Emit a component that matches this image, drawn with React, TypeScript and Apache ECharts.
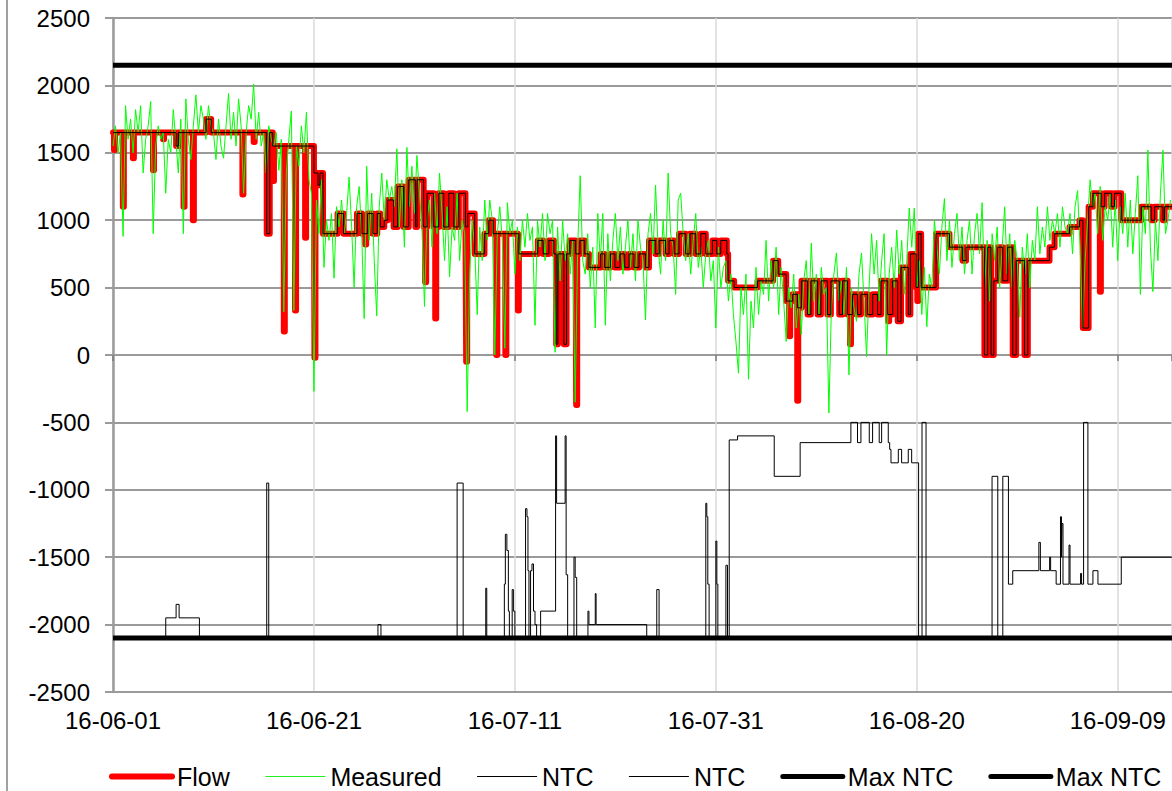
import React, { useEffect, useRef } from 'react';
import * as echarts from 'echarts';

const FONT = 'Liberation Sans, Arial, sans-serif';
const START_UTC = Date.UTC(2016, 5, 1);
const X_MAX = 105.4; // days after 2016-06-01 at the right edge
const X_INTERVAL = 20;
const Y_MIN = -2500;
const Y_MAX = 2500;
const Y_INTERVAL = 500;

const seriesNames = ['Flow', 'Measured', 'NTC', 'NTC ', 'Max NTC', 'Max NTC '];

// NTC (positive direction): [day, value] held until the next breakpoint
const ntcUpSteps: [number, number][] = [
  [0, 1650], [6.28, 1550], [6.5, 1650], [9.27, 1750], [9.77, 1650], [15.3, 900], [15.6, 1650], [15.9, 1550],
  [20.0, 1350], [20.4, 1260], [20.6, 1350], [20.9, 900], [22.35, 1050], [22.95, 900], [24.28, 1050], [24.78, 900],
  [25.35, 1050], [25.88, 900], [26.3, 1050], [26.6, 950], [27.0, 1000], [27.34, 1150], [27.93, 950], [28.33, 1250],
  [28.93, 950], [29.43, 1300], [30.1, 950], [30.26, 1300], [30.92, 950], [31.26, 1200], [31.92, 950], [32.42, 1200],
  [32.92, 950], [33.42, 1200], [33.92, 950], [34.42, 1200], [35.08, 950], [35.31, 1050], [36.0, 750], [36.97, 900],
  [37.4, 1000], [37.83, 900], [40.39, 750], [42.28, 850], [42.81, 750], [43.38, 850], [43.88, 750], [44.11, 80],
  [44.28, 750], [44.88, 80], [45.14, 750], [45.47, 850], [46.04, 750], [46.47, 850], [46.94, 750], [47.37, 650],
  [48.53, 750], [48.93, 650], [49.5, 750], [49.95, 650], [50.46, 750], [50.93, 650], [51.36, 750], [51.86, 650],
  [52.36, 750], [53.0, 650], [53.35, 850], [54.0, 750], [54.35, 850], [55.0, 750], [55.35, 850], [55.85, 750],
  [56.34, 900], [57.0, 750], [57.43, 900], [58.0, 750], [58.5, 900], [59.0, 750], [59.66, 850], [60.09, 750],
  [60.49, 850], [61.09, 750], [61.22, 550], [61.82, 500], [64.15, 550], [65.7, 700], [66.21, 600], [67.0, 400],
  [67.64, 450], [68.13, 350], [68.53, 550], [69.13, 300], [69.46, 550], [70.13, 300], [70.46, 550], [71.1, 300],
  [71.45, 550], [72.28, 300], [72.61, 550], [73.11, 300], [73.61, 450], [74.11, 300], [74.44, 450], [75.11, 300],
  [75.61, 450], [76.1, 300], [76.44, 550], [77.11, 300], [77.6, 550], [78.1, 250], [78.43, 650], [79.16, 300],
  [79.36, 750], [79.93, 500], [80.16, 900], [80.43, 500], [81.92, 900], [83.25, 800], [84.57, 700], [84.9, 800],
  [86.73, 0], [87.06, 800], [87.39, 0], [87.66, 550], [88.06, 800], [88.56, 550], [89.05, 800], [89.55, 0],
  [89.89, 700], [90.72, 0], [91.05, 700], [93.21, 800], [93.71, 900], [95.2, 950], [96.2, 1000], [96.53, 200],
  [97.1, 1100], [97.53, 1200], [98.35, 1100], [98.69, 1200], [99.35, 1100], [99.68, 1200], [100.35, 1000],
  [102.34, 1100], [103.34, 1000], [103.67, 1100], [104.5, 1000], [104.66, 1100], [105.4, 1100],
];

// Short (about one hour) drops of the flow below the NTC: [centre day, value]
const flowDips: [number, number][] = [
  [0.15, 1520], [1.03, 1100], [2.03, 1460], [4.03, 1370], [5.03, 1600], [7.07, 1100], [8.0, 1000],
  [12.93, 1190], [14.05, 1580], [15.97, 1290], [17.05, 175], [18.17, 330], [19.17, 870], [20.1, -20],
  [25.15, 820], [31.12, 540], [32.12, 270], [35.2, -50], [38.2, 0], [39.1, 0], [40.35, 330], [46.15, -370],
  [67.35, 140], [68.15, -340], [73.4, 80], [77.2, 250], [80.1, 400], [98.27, 470],
];
const DIP_HALF_WIDTH = 0.05;

// NTC (negative direction): [day, value] held until the next breakpoint
const ntcDownSteps: [number, number][] = [
  [0, -2100], [5.25, -1950], [6.28, -1850], [6.58, -1950], [8.6, -2100], [15.3, -950], [15.5, -2100],
  [26.37, -2000], [26.67, -2100], [34.25, -950], [34.85, -2100], [37.1, -1730], [37.2, -2100],
  [38.95, -1700], [39.05, -1330], [39.2, -1450], [39.35, -1900], [39.45, -2100],
  [39.73, -1740], [39.85, -1900], [40.0, -2100],
  [41.06, -1140], [41.2, -1200], [41.3, -1600], [41.4, -2100],
  [41.56, -1600], [41.7, -1550], [41.85, -1900], [42.0, -2000], [42.16, -2100],
  [42.56, -1900], [44.05, -600], [44.15, -1100], [45.0, -600], [45.1, -1630], [45.25, -2100],
  [45.88, -1500], [46.0, -1650], [46.15, -2100], [47.27, -1900], [47.37, -2000], [48.0, -1770], [48.08, -2000],
  [53.12, -2100], [54.12, -1740], [54.35, -2100],
  [59.0, -1100], [59.1, -1200], [59.2, -1700], [59.33, -2100],
  [60.0, -1380], [60.1, -1700], [60.2, -2100], [61.0, -1560], [61.16, -2100],
  [61.33, -630], [62.16, -600], [65.81, -900], [68.39, -650],
  [73.44, -500], [74.1, -650], [74.44, -500], [75.27, -650], [75.6, -500], [76.26, -650], [76.5, -500], [77.16, -650],
  [77.3, -700], [77.43, -800], [78.16, -700], [78.49, -800], [79.15, -700], [79.49, -800],
  [80.18, -2100], [80.52, -500], [80.92, -2100],
  [87.49, -900], [88.06, -2100], [88.56, -900], [89.12, -1700], [89.55, -1600],
  [92.15, -1390], [92.3, -1600], [93.22, -1500], [93.32, -1600], [93.87, -1700],
  [94.3, -1200], [94.4, -1500], [94.45, -1250], [94.55, -1700], [95.15, -1410], [95.25, -1700],
  [96.3, -1620], [96.4, -1700], [96.6, -500], [97.03, -1700], [97.53, -1600], [98.03, -1700],
  [100.35, -1500], [105.4, -1500],
];

// Measured flow, one value every 6 hours from 2016-06-01 00:00
const MEASURED_STEP_DAYS = 0.25;
const measured: number[] = [
  1550, 1700, 1500, 1650, 880, 1850, 1600, 1750, 1500, 1820, 1650, 1850, 1350, 1600, 1700, 1880,
  900, 1550, 1700, 1600, 1650, 1200, 1600, 1500, 1820, 1600, 1350, 1750, 900, 1900, 1600, 1450,
  1700, 1930, 1650, 1850, 1750, 1600, 1850, 1700, 1650, 1450, 1750, 1550, 1460, 1700, 1940, 1600,
  1800, 1550, 1900, 1700, 1200, 1650, 1850, 1750, 2010, 1600, 1800, 1550, 1650, 1350, 1700, 1600,
  1550, 1650, 1370, 1600, 320, 1350, 1600, 1810, 330, 1550, 1400, 1700, 1500, 1800, 1300, 1200,
  -270, 1150, 900, 1300, 650, 1000, 850, 1050, 570, 1100, 950, 1150, 900, 1050, 1320, 950,
  500, 1100, 1250, 900, 270, 1400, 850, 1200, 700, 290, 1100, 1350, 1000, 1300, 1150, 1250,
  1100, 1530, 950, 1300, 800, 1540, 1100, 1400, 1050, 1480, 1200, 950, 360, 1000, 1150, 800,
  1200, 900, 1350, 1050, 700, 1100, 580, 950, 850, 1200, 700, 1000, 900, -420, 600, 1000,
  800, 300, 950, 700, 1150, 850, 1150, 1000, 0, 900, 1100, 850, 50, 1130, 900, 1000,
  600, 950, 700, 1000, 800, 1050, 850, 950, 220, 1000, 800, 1050, 700, 1050, 900, 1000,
  20, 950, 550, 1000, 700, 900, 600, 850, -350, 800, 1330, 700, 600, 900, 500, 800,
  200, 1050, 700, 1050, 220, 900, 550, 850, 1050, 700, 950, 600, 800, 1000, 650, 900,
  550, 1000, 800, 700, 260, 900, 1050, 750, 1260, 800, 600, 1000, 700, 1350, 900, 800,
  450, 1150, 1200, 900, 700, 900, 600, 850, 1050, 650, 800, 500, 750, 850, 550, 700,
  200, 800, 500, 650, 700, 400, 600, 300, 100, -135, 500, 300, 600, -180, 400, 200,
  650, 300, 550, 450, 850, 400, 700, 500, 800, 300, 650, 400, 100, 500, 350, 600,
  200, 450, 150, 550, 700, 300, 830, 400, 600, 300, 650, 450, 500, -430, 350, 600,
  757, 400, 550, 300, 650, -148, 500, 350, 250, 600, 757, 400, -12, 500, 900, 600,
  850, 400, 700, 900, 0, 600, 800, 500, 927, 600, 850, 450, 700, 1090, 800, 1090,
  500, 700, 300, 650, 210, 600, 500, 1000, 800, 600, 950, 1160, 700, 1000, 650, 900,
  1050, 700, 950, 600, 850, 1000, 600, 900, 1050, 750, 1130, 500, 850, 400, 900, 700,
  950, 500, 800, 1100, 600, 900, 500, 850, 700, 280, 800, 600, 900, 500, 850, 700,
  1100, 750, 950, 800, 1100, 850, 1000, 900, 1050, 800, 1100, 950, 900, 1050, 750, 1100,
  1220, 800, 200, 700, 1000, 1300, 1100, 1200, 900, 1250, 850, 1100, 1000, 1200, 800, 1150,
  700, 1100, 900, 1200, 800, 1150, 750, 1050, 1330, 450, 1100, 900, 1520, 800, 470, 1000,
  700, 1200, 1520, 900, 1000, 1150,
];

const maxNtcUp = 2150;
const maxNtcDown = -2100;

function stepValueAt(steps: [number, number][], t: number): number {
  let v = steps[0][1];
  for (const [d, val] of steps) {
    if (d <= t) v = val;
    else break;
  }
  return v;
}

function buildFlow(): [number, number][] {
  const dips = flowDips.map(([c, v]) => [Math.max(0, c - DIP_HALF_WIDTH), c + DIP_HALF_WIDTH, v]);
  const times = new Set<number>();
  ntcUpSteps.forEach(([d]) => times.add(d));
  dips.forEach(([s, e]) => {
    times.add(s);
    times.add(e);
  });
  const sorted = Array.from(times).sort((a, b) => a - b);
  return sorted.map((t) => {
    const dip = dips.find(([s, e]) => t >= s && t < e);
    return [t, dip ? dip[2] : stepValueAt(ntcUpSteps, t)] as [number, number];
  });
}

function dayLabel(v: number): string {
  const d = new Date(START_UTC + Math.round(v) * 86400000);
  const yy = String(d.getUTCFullYear()).slice(2);
  const mm = String(d.getUTCMonth() + 1).padStart(2, '0');
  const dd = String(d.getUTCDate()).padStart(2, '0');
  return `${yy}-${mm}-${dd}`;
}

export default function App() {
  const ref = useRef<HTMLDivElement>(null);

  useEffect(() => {
    if (!ref.current) return;
    const chart = echarts.init(ref.current, undefined, { renderer: 'svg' });
    const flow = buildFlow();
    const measuredData = measured.map((v, i) => [i * MEASURED_STEP_DAYS, v]);

    const baseLine = (name: string, data: any[], color: string, width: number, step: any, cap = 'butt') => ({
      name,
      type: 'line',
      data,
      step,
      symbol: 'none',
      showSymbol: false,
      clip: true,
      itemStyle: { color },
      lineStyle: { color, width, join: 'round', cap },
      emphasis: { disabled: true },
    });

    chart.setOption({
      animation: false,
      backgroundColor: '#ffffff',
      textStyle: { fontFamily: FONT },
      grid: { left: 113, top: 18, right: 0, bottom: 99, containLabel: false, outerBoundsMode: 'none' },
      graphic: [
        {
          type: 'line',
          shape: { x1: 7, y1: 0, x2: 7, y2: 791 },
          style: { stroke: '#a0a0a0', lineWidth: 2 },
          silent: true,
        },
      ],
      legend: {
        left: 109,
        top: 764,
        padding: 0,
        itemGap: 35,
        itemWidth: 60,
        itemHeight: 14,
        formatter: (n: string) => n.trim(),
        textStyle: { fontSize: 25, lineHeight: 25, color: '#000', fontFamily: FONT },
        itemStyle: { opacity: 0 },
        selectedMode: false,
        data: [
          { name: 'Flow', lineStyle: { color: '#ff0000', width: 6, cap: 'round' } },
          { name: 'Measured', lineStyle: { color: '#22ee22', width: 1.2 } },
          { name: 'NTC', lineStyle: { color: '#000', width: 1 } },
          { name: 'NTC ', lineStyle: { color: '#000', width: 1 } },
          { name: 'Max NTC', lineStyle: { color: '#000', width: 5, cap: 'round' } },
          { name: 'Max NTC ', lineStyle: { color: '#000', width: 5, cap: 'round' } },
        ],
      },
      xAxis: [
        {
          type: 'value',
          min: 0,
          max: X_MAX,
          interval: X_INTERVAL,
          position: 'bottom',
          axisLine: { show: true, onZero: false, lineStyle: { color: '#9a9a9a', width: 2 } },
          axisTick: { show: false },
          axisLabel: {
            formatter: dayLabel,
            fontSize: 24,
            color: '#000',
            fontFamily: FONT,
            margin: 16,
            showMaxLabel: false,
          },
          splitLine: { show: true, lineStyle: { color: '#dadada', width: 1.5 } },
        },
        {
          type: 'value',
          min: 0,
          max: X_MAX,
          interval: X_INTERVAL,
          position: 'bottom',
          axisLine: { show: true, onZero: true, lineStyle: { color: '#9a9a9a', width: 2 } },
          axisTick: { show: true, length: 6, lineStyle: { color: '#7a7a7a', width: 1.5 } },
          axisLabel: { show: false },
          splitLine: { show: false },
        },
      ],
      yAxis: {
        type: 'value',
        min: Y_MIN,
        max: Y_MAX,
        interval: Y_INTERVAL,
        axisLine: { show: true, onZero: false, lineStyle: { color: '#9a9a9a', width: 2.5 } },
        axisTick: { show: true, length: 8, lineStyle: { color: '#9a9a9a', width: 2 } },
        axisLabel: {
          formatter: (v: number) => String(v),
          fontSize: 24,
          color: '#000',
          fontFamily: FONT,
          margin: 23,
        },
        splitLine: { show: true, lineStyle: { color: '#9a9a9a', width: 2 } },
      },
      series: [
        baseLine(seriesNames[0], flow, '#ff0000', 6, 'end', 'round'),
        baseLine(seriesNames[1], measuredData, '#00ff00', 1, false),
        baseLine(seriesNames[2], ntcUpSteps, '#000000', 1, 'end'),
        baseLine(seriesNames[3], ntcDownSteps, '#000000', 1, 'end'),
        baseLine(seriesNames[4], [[0, maxNtcUp], [X_MAX, maxNtcUp]], '#000000', 5, false),
        baseLine(seriesNames[5], [[0, maxNtcDown], [X_MAX, maxNtcDown]], '#000000', 5, false),
      ],
    });

    return () => chart.dispose();
  }, []);

  return (
    <div
      ref={ref}
      style={{ position: 'fixed', left: 0, top: 0, width: 1172, height: 791, background: '#fff' }}
    />
  );
}
